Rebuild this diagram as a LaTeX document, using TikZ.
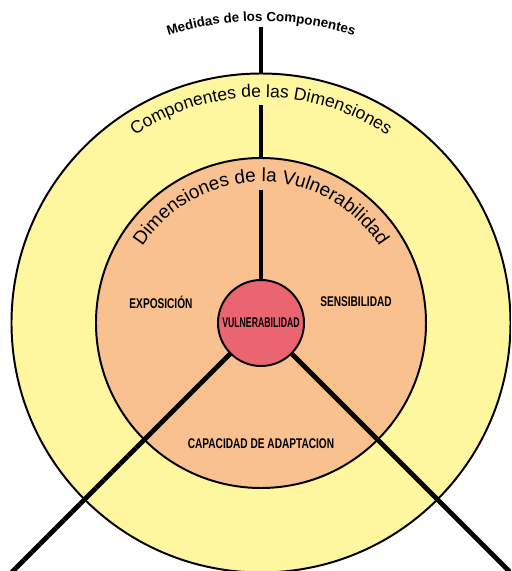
\documentclass[tikz,border=0pt]{standalone}
\usepackage{fontspec}
\setmainfont{Liberation Sans}
\newfontfamily\narrowfont[FakeStretch=0.72]{Liberation Sans}
\newfontfamily\tightfont[FakeStretch=0.62]{Liberation Sans}
\usetikzlibrary{decorations.text}
\definecolor{lightyellow}{RGB}{255,246,160}
\definecolor{lightorange}{RGB}{249,193,143}
\definecolor{lightred}{RGB}{235,101,112}

\begin{document}
\begin{tikzpicture}[
    ring/.style={circle, draw, line width=1.4pt, inner sep=0pt, outer sep=0pt},
    spoke/.style={line width=3.3pt},
    dimlabel/.style={font=\narrowfont\bfseries\fontsize{10}{12}\selectfont}
  ]
  \clip (-6.525,-6.2) rectangle (6.25,8.075);

  % Rings
  \node[ring, fill=lightyellow, minimum size=12.475cm] (comp) at (0,0) {};
  \node[ring, fill=lightorange, minimum size=8.25cm] (dim) at (0,0) {};
  \node[ring, fill=lightred, minimum size=2.15cm, font=\tightfont\bfseries\fontsize{10}{12}\selectfont] (vul) at (0,0) {VULNERABILIDAD};

  % Spokes
  \coordinate (top) at (0,7.4);
  \coordinate (gapA) at (0,5.45);
  \coordinate (gapB) at (0,3.325);
  \coordinate (sw) at (225:9.5);
  \coordinate (se) at (-45:9.5);
  \draw[spoke] (top) -- (comp.north);
  \draw[spoke] (gapA) -- (dim.north);
  \draw[spoke] (gapB) -- (vul.north);
  \draw[spoke] (vul.225) -- (sw);
  \draw[spoke] (vul.-45) -- (se);

  % Curved titles
  \path[decorate, decoration={text along path, text align=center,
      text={|\bfseries\fontsize{9.5}{11}\selectfont|Medidas de los Componentes}}]
    (120:7.55) arc[start angle=120, end angle=60, radius=7.55];
  \path[decorate, decoration={text along path, text align=center,
      text={|\fontsize{12.5}{15}\selectfont|Componentes de las Dimensiones}}]
    (150:5.65) arc[start angle=150, end angle=30, radius=5.65];
  \path[decorate, decoration={text along path, text align=center,
      text={|\fontsize{13.5}{16}\selectfont|Dimensiones de la Vulnerabilidad}}]
    (160:3.525) arc[start angle=160, end angle=20, radius=3.525];

  % Dimensions
  \node[dimlabel] (expo) at (-2.5,0.525) {EXPOSICIÓN};
  \node[dimlabel] (sens) at (2.375,0.525) {SENSIBILIDAD};
  \node[dimlabel] (adap) at (0,-3.025) {CAPACIDAD DE ADAPTACION};
\end{tikzpicture}
\end{document}
